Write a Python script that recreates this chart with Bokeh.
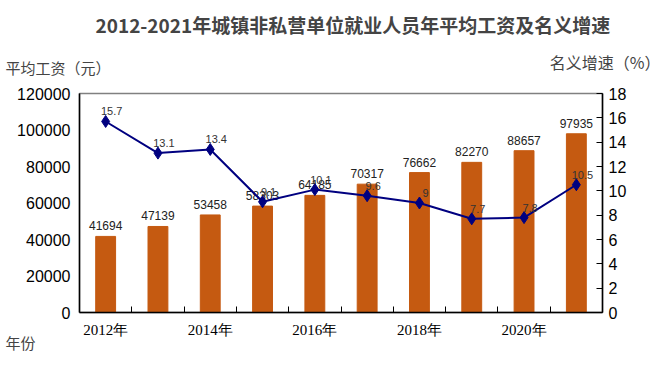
from bokeh.plotting import figure
from bokeh.models import (Range1d, LinearAxis, FixedTicker, PrintfTickFormatter,
                          NumeralTickFormatter, Legend, LegendItem, ColumnDataSource, Title)
from bokeh.core.properties import value
from bokeh.embed import file_html
from bokeh.resources import INLINE

years = [2012, 2013, 2014, 2015, 2016, 2017, 2018, 2019, 2020, 2021]
wages = [41694, 47139, 53458, 58303, 64185, 70317, 76662, 82270, 88657, 97935]
growth = [15.7, 13.1, 13.4, 9.1, 10.1, 9.6, 9.0, 7.7, 7.8, 10.5]
growth_labels = ["15.7", "13.1", "13.4", "9.1", "10.1", "9.6", "9", "7.7", "7.8", "10.5"]
label_years = [2012, 2014, 2016, 2018, 2020]

title_text = "2012-2021年城镇非私营单位就业人员年平均工资及名义增速"
left_title = "平均工资（元）"
right_title = "名义增速（%）"
x_title = "年份"
bar_name = "从业人员年平均工资（元）"
line_name = "名义增长%"

BAR = "#C55A11"
LINE = "#000080"
SANS = "Liberation Sans"
CJK = "Noto Sans CJK SC"

src = ColumnDataSource(dict(x=years, w=wages, g=growth,
                            wl=[str(v) for v in wages], gl=growth_labels))

p = figure(frame_width=523, frame_height=219, output_backend="svg", toolbar_location=None,
           x_range=Range1d(years[0] - 0.5, years[-1] + 0.5),
           y_range=Range1d(0, 120000),
           min_border_left=79, min_border_right=66, min_border_top=93, min_border_bottom=78)
p.extra_y_ranges = {"pct": Range1d(0, 18)}
p.xgrid.visible = False
p.ygrid.visible = False
p.outline_line_color = "#808080"
p.outline_line_width = 1.5
p.background_fill_color = "white"
p.border_fill_color = None

# left axis
p.yaxis.ticker = FixedTicker(ticks=list(range(0, 120001, 20000)))
p.yaxis.formatter = NumeralTickFormatter(format="0")
p.yaxis.major_tick_in = 0
p.yaxis.major_tick_out = 0
p.yaxis.minor_tick_line_color = None
p.yaxis.axis_line_color = "black"
p.yaxis.axis_line_width = 1.5
p.yaxis.major_label_text_font = SANS
p.yaxis.major_label_text_font_size = "16px"
p.yaxis.major_label_text_color = "black"
p.yaxis.major_label_standoff = 9

# bottom axis
p.xaxis.ticker = FixedTicker(ticks=label_years, minor_ticks=[y + 0.5 for y in years[:-1]])
p.xaxis.formatter = PrintfTickFormatter(format="%d年")
p.xaxis.major_tick_in = 0
p.xaxis.major_tick_out = 0
p.xaxis.minor_tick_in = 6
p.xaxis.minor_tick_out = 0
p.xaxis.minor_tick_line_color = "black"
p.xaxis.axis_line_color = "black"
p.xaxis.axis_line_width = 1.5
p.xaxis.major_label_text_font = "Liberation Serif"
p.xaxis.major_label_text_font_size = "15px"
p.xaxis.major_label_text_color = "black"
p.xaxis.major_label_standoff = 9

# right axis
ra = LinearAxis(y_range_name="pct", ticker=FixedTicker(ticks=list(range(0, 19, 2))))
ra.major_tick_in = 6
ra.major_tick_out = 0
ra.minor_tick_line_color = None
ra.axis_line_color = "black"
ra.axis_line_width = 1.5
ra.major_label_text_font = SANS
ra.major_label_text_font_size = "16px"
ra.major_label_text_color = "black"
ra.major_label_standoff = 6
p.add_layout(ra, "right")

bars = p.vbar(x="x", top="w", width=0.38, source=src, fill_color=BAR, line_color=BAR)
p.text(x="x", y="w", text="wl", source=src, text_align="center", text_baseline="bottom",
       y_offset=-6, text_font_size="12px", text_color="#222222", text_font=value(SANS))

ln = p.line(x="x", y="g", source=src, y_range_name="pct", line_color=LINE, line_width=2)
mk = p.scatter(x="x", y="g", source=src, y_range_name="pct", marker="diamond", size=12,
               fill_color=LINE, line_color=LINE)
p.text(x="x", y="g", text="gl", source=src, y_range_name="pct", text_align="center",
       text_baseline="bottom", x_offset=6, y_offset=-6, text_font_size="11px",
       text_color="#333333", text_font=value(SANS))

# above panel: rows stacked outward from the frame
p.add_layout(Title(text=left_title, align="left", offset=-74, text_font=CJK,
                   text_font_size="15px", text_font_style="normal", standoff=32), "above")
p.add_layout(Title(text=title_text, align="left", offset=16, text_font=CJK,
                   text_font_size="19px", text_font_style="bold", standoff=2), "above")
p.add_layout(Title(text=right_title, align="right", offset=-58, text_font=CJK,
                   text_font_size="16px", text_font_style="normal", standoff=-133), "above")

# below panel: x axis, 年份 (pulled up close to the tick labels), spacer, legend
p.add_layout(Title(text=x_title, align="left", offset=-74, text_font=CJK,
                   text_font_size="15px", text_font_style="normal", standoff=-21), "below")
p.add_layout(Title(text=" ", text_font_size="1px", standoff=6), "below")
legend = Legend(items=[LegendItem(label=bar_name, renderers=[bars]),
                       LegendItem(label=line_name, renderers=[ln, mk])],
                orientation="horizontal", location="center",
                border_line_color="black", border_line_width=1,
                label_text_font=CJK, label_text_font_size="14px",
                glyph_width=40, glyph_height=12, spacing=4, padding=2, margin=1,
                label_standoff=4, label_height=16)
p.add_layout(legend, "below")

open("out.html", "w").write(file_html(p, INLINE))
